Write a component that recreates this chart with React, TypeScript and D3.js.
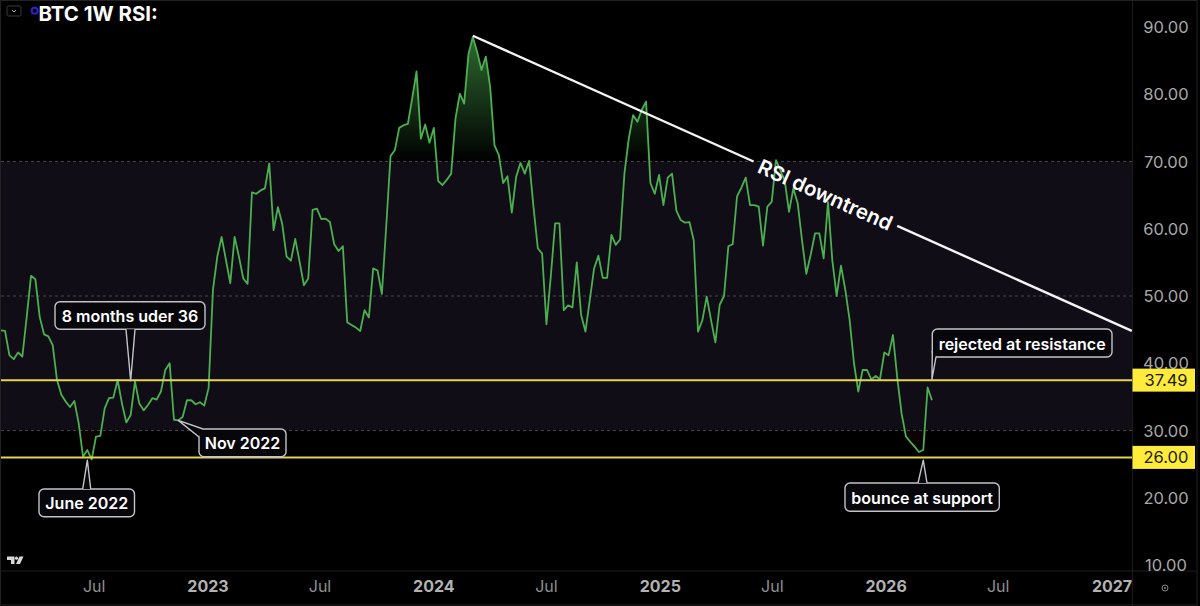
import React from "react";
import * as d3 from "d3";

const firstWeek = "2022-01-31";
const rsiValues = [
  44.9, 44.8, 41.2, 40.6, 41.6, 41.0, 46.9, 53.0, 52.5, 46.9, 44.3, 44.0, 42.7, 37.5, 35.3, 34.3, 33.5, 34.4, 31.1, 26.1,
  27.1, 25.7, 29.1, 29.2, 33.3, 34.8, 34.9, 37.5, 34.0, 31.2, 32.3, 37.3, 34.0, 33.0, 33.8, 34.8, 34.6, 35.8, 39.0, 40.0,
  31.6, 31.5, 32.0, 34.5, 34.5, 33.9, 34.2, 33.7, 36.3, 50.9, 55.85, 58.8, 55.35, 51.9, 58.8, 55.85, 52.6, 51.8, 65.4, 65.2,
  65.7, 66.0, 69.7, 59.8, 63.2, 60.7, 55.85, 55.25, 58.5, 55.1, 51.6, 52.6, 62.8, 63.0, 61.45, 61.5, 61.0, 57.7, 56.7, 57.4,
  46.1, 45.7, 45.3, 44.8, 47.9, 46.8, 54.1, 53.8, 50.3, 60.3, 70.8, 71.7, 75.0, 75.4, 75.6, 79.4, 83.4, 73.4, 75.5, 72.8,
  75.0, 67.1, 66.5, 67.3, 68.2, 76.4, 80.1, 78.6, 86.0, 88.5, 86.3, 83.6, 85.6, 81.1, 72.4, 71.0, 66.8, 67.8, 62.4, 67.7,
  69.8, 68.2, 70.1, 63.3, 57.1, 56.3, 45.8, 52.9, 60.8, 60.8, 47.9, 48.6, 48.3, 55.0, 47.2, 44.7, 49.4, 54.1, 56.0, 52.7,
  52.7, 59.1, 57.6, 58.4, 68.2, 73.4, 76.9, 75.9, 77.7, 78.9, 66.8, 65.2, 68.0, 63.5, 67.6, 68.2, 62.7, 61.3, 60.9, 61.0,
  58.3, 44.7, 46.4, 49.9, 46.4, 43.1, 48.7, 50.0, 57.4, 57.7, 64.8, 66.1, 67.6, 63.5, 63.5, 63.3, 57.5, 63.3, 64.0, 70.2,
  68.7, 67.2, 62.5, 66.0, 63.8, 58.3, 53.3, 56.1, 59.3, 59.3, 55.6, 64.0, 55.3, 50.0, 54.5, 50.9, 46.4, 40.0, 35.8, 39.0,
  39.0, 37.6, 38.1, 37.6, 41.6, 41.2, 44.2, 37.8, 32.5, 29.1, 28.3, 27.6, 26.8, 27.1, 36.4, 34.5,
];
const priceTicks = [90, 80, 70, 60, 50, 40, 30, 20, 10];
const dashedLevels = [70, 50, 30];
const bandLevels = [70, 30];
const supportLevels = [37.49, 26.0];
const timeTickDates = ["2022-07-01", "2023-01-01", "2023-07-01", "2024-01-01", "2024-07-01", "2025-01-01", "2025-07-01", "2026-01-01", "2026-07-01", "2027-01-01"];
const timeTickLabels = ["Jul", "2023", "Jul", "2024", "Jul", "2025", "Jul", "2026", "Jul", "2027"];
const trendDates = ["2024-03-04", "2027-02-02"];
const trendValues = [88.7, 44.8];
const titleText = "BTC 1W RSI:";
const trendLabel = "RSI downtrend";
const calloutLabels = ["June 2022", "8 months uder 36", "Nov 2022", "rejected at resistance", "bounce at support"];
const calloutWeekIndex = [20, 30, 41, 215, 213];
const calloutValues = [25.6, 37.4, 31.5, 37.6, 25.6];

const W = 1200, H = 606, PANE_R = 1132.5, PANE_B = 571;
const FONT = "Inter, 'Open Sans', sans-serif";
const utc = (s: string) => new Date(s + "T00:00:00Z");
const x = d3.scaleUtc().domain([utc("2023-01-01"), utc("2027-01-01")]).range([208, 1112]);
const y = d3.scaleLinear().domain([90, 10]).range([27, 565]);
const weeks = rsiValues.map((v, i) => ({ d: d3.utcDay.offset(utc(firstWeek), i * 7), v }));
const line = d3.line<any>().x((p) => x(p.d)).y((p) => y(p.v));
const area = (base: number) => d3.area<any>().x((p) => x(p.d)).y0(y(base)).y1((p) => y(p.v));

// box: [left, top, right, bottom]; tail: two base points in the pixel frame
const boxes = [
  { b: [39, 489, 134.5, 516.7], tail: [[82.7, 489], [90.7, 489]] },
  { b: [55, 301.7, 205, 329.3], tail: [[126, 329.3], [135, 329.3]] },
  { b: [199, 429, 286, 456.7], tail: [[199, 437], [203, 429]] },
  { b: [932.3, 329, 1112, 357], tail: [[936, 357], [932.3, 351]] },
  { b: [845, 483, 999.3, 511.3], tail: [[918, 483], [927, 483]] },
];

function Callout({ i }: { i: number }) {
  const { b, tail } = boxes[i];
  const tip = [x(weeks[calloutWeekIndex[i]].d), y(calloutValues[i])];
  const tailPath = `M${tail[0][0]},${tail[0][1]}L${tip[0]},${tip[1]}L${tail[1][0]},${tail[1][1]}`;
  return (
    <g>
      <rect x={b[0]} y={b[1]} width={b[2] - b[0]} height={b[3] - b[1]} rx={5} fill="#07070b" stroke="#c4c4c8" strokeWidth={1.4} />
      <path d={`${tailPath}Z`} fill="#07070b" stroke="none" />
      <path d={tailPath} fill="none" stroke="#c4c4c8" strokeWidth={1.4} strokeLinejoin="round" />
      <text x={(b[0] + b[2]) / 2} y={(b[1] + b[3]) / 2 + 0.5} dominantBaseline="central" textAnchor="middle" fill="#fff" fontSize={16} fontWeight={600} fontFamily={FONT}>
        {calloutLabels[i]}
      </text>
    </g>
  );
}

export default function App() {
  const t0: [number, number] = [x(utc(trendDates[0])), y(trendValues[0])];
  const t1: [number, number] = [x(utc(trendDates[1])), y(trendValues[1])];
  const at = (f: number) => [t0[0] + (t1[0] - t0[0]) * f, t0[1] + (t1[1] - t0[1]) * f];
  const gap0 = at(0.426), gap1 = at(0.644);
  const angle = (Math.atan2(t1[1] - t0[1], t1[0] - t0[0]) * 180) / Math.PI;
  const path = line(weeks) as string;
  return (
    <svg width={W} height={H} viewBox={`0 0 ${W} ${H}`} style={{ position: "absolute", left: 0, top: 0, display: "block", background: "#000" }}>
      <defs>
        <clipPath id="above"><rect x={0} y={0} width={PANE_R} height={y(70)} /></clipPath>
        <clipPath id="below"><rect x={0} y={y(30)} width={PANE_R} height={PANE_B - y(30)} /></clipPath>
        <linearGradient id="ob" gradientUnits="userSpaceOnUse" x1={0} x2={0} y1={y(88.5)} y2={y(70)}>
          <stop offset="0" stopColor="#4caf50" stopOpacity={0.6} />
          <stop offset="1" stopColor="#4caf50" stopOpacity={0} />
        </linearGradient>
      </defs>
      <rect x={0} y={0} width={W} height={H} fill="#000" />
      <rect x={1} y={y(bandLevels[0])} width={PANE_R - 1} height={y(bandLevels[1]) - y(bandLevels[0])} fill="#100d17" />
      {dashedLevels.map((l) => (
        <line key={l} x1={1} x2={PANE_R} y1={y(l)} y2={y(l)} stroke="#46444c" strokeWidth={1} strokeDasharray="3 3" />
      ))}
      <path d={area(70)(weeks) as string} fill="url(#ob)" clipPath="url(#above)" />
      <path d={area(30)(weeks) as string} fill="#5a0f10" fillOpacity={0.12} clipPath="url(#below)" />
      <path d={path} fill="none" stroke="#4caf50" strokeWidth={1.8} strokeLinejoin="round" />
      {supportLevels.map((l) => (
        <line key={l} x1={1} x2={PANE_R} y1={y(l)} y2={y(l)} stroke="#e6d44c" strokeWidth={2} />
      ))}
      <line x1={t0[0]} y1={t0[1]} x2={gap0[0]} y2={gap0[1]} stroke="#f4f4f4" strokeWidth={2.4} />
      <line x1={gap1[0]} y1={gap1[1]} x2={t1[0]} y2={t1[1]} stroke="#f4f4f4" strokeWidth={2.4} />
      <text transform={`translate(${(gap0[0] + gap1[0]) / 2},${(gap0[1] + gap1[1]) / 2 + 1}) rotate(${angle})`} textAnchor="middle" dominantBaseline="central" fill="#fff" fontSize={20.5} fontWeight={600} fontFamily={FONT}>
        {trendLabel}
      </text>
      {calloutLabels.map((_, i) => <Callout key={i} i={i} />)}

      {/* frame */}
      <line x1={PANE_R} x2={PANE_R} y1={1} y2={H} stroke="#1c1c1e" />
      <line x1={1} x2={1197} y1={PANE_B} y2={PANE_B} stroke="#1c1c1e" />
      <rect x={0.5} y={0.5} width={1196.5} height={604.5} fill="none" stroke="#222224" />

      {/* right axis */}
      {priceTicks.map((t) => (
        <text key={t} x={1166} y={y(t)} textAnchor="middle" dominantBaseline="central" fill="#a8a8a8" fontSize={16.5} fontFamily={FONT}>
          {t.toFixed(2)}
        </text>
      ))}
      {supportLevels.map((l) => (
        <g key={l}>
          <rect x={PANE_R} y={y(l) - 11.5} width={62.5} height={23} fill="#ffeb3b" />
          <text x={1166} y={y(l)} textAnchor="middle" dominantBaseline="central" fill="#1a1a0a" fontSize={16.5} fontFamily={FONT}>
            {l.toFixed(2)}
          </text>
        </g>
      ))}
      {/* time axis */}
      {timeTickLabels.map((t, i) => (
        <text key={i} x={x(utc(timeTickDates[i]))} y={586} textAnchor="middle" dominantBaseline="central" fill={t === "Jul" ? "#8f8f8f" : "#b2b2b2"} fontSize={16} fontWeight={t === "Jul" ? 400 : 700} fontFamily={FONT}>
          {t}
        </text>
      ))}

      {/* header */}
      <rect x={7} y={6} width={14} height={10} rx={1.5} fill="none" stroke="#3a3a3c" />
      <path d="M12,10 L14,12 L16,10" fill="none" stroke="#b8b8b8" strokeWidth={1} />
      <circle cx={34.7} cy={10.7} r={3} fill="none" stroke="#3a1fc4" strokeWidth={2} />
      <text x={38.5} y={20.7} fill="#fff" fontSize={20.4} fontWeight={700} fontFamily={FONT}>{titleText}</text>

      {/* logo */}
      <path d="M7,556.5 h7.5 v7.5 h-3.5 v-4 h-4 Z" fill="#d8d8d8" />
      <circle cx={16.5} cy={558.2} r={1.6} fill="#d8d8d8" />
      <path d="M19.5,556.5 h4 l-3.5,7.5 h-4 Z" fill="#d8d8d8" />
      <circle cx={1165} cy={588} r={3} fill="none" stroke="#8a8a8a" strokeWidth={1} />
      <circle cx={1165} cy={588} r={1} fill="#8a8a8a" />
    </svg>
  );
}
